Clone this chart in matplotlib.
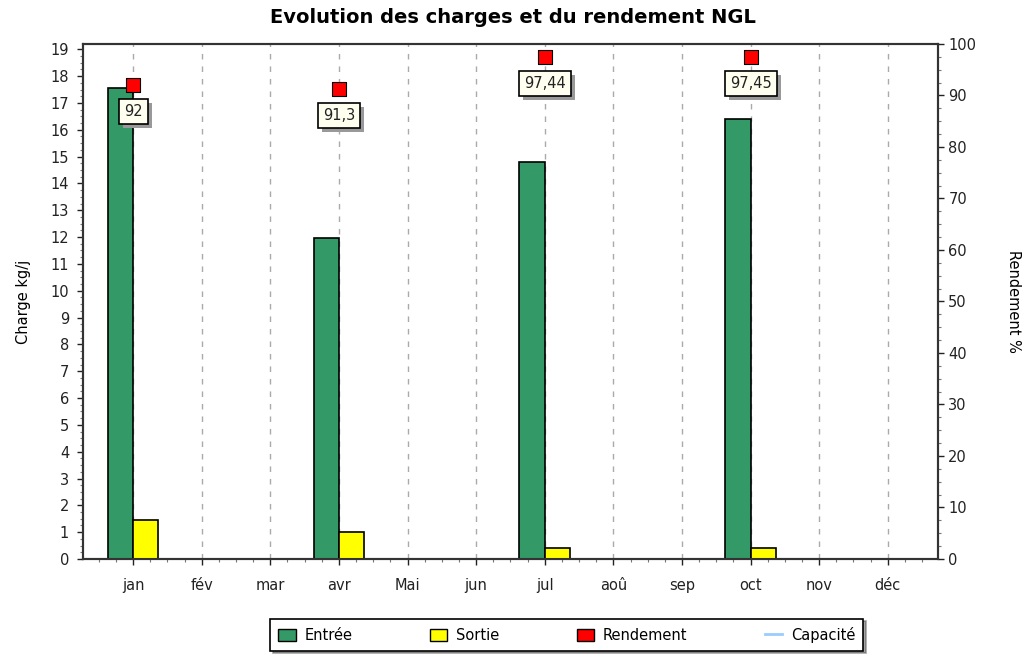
import numpy as np
import matplotlib
matplotlib.use("Agg")
from matplotlib import pyplot as plt
from matplotlib import patheffects as pe
from matplotlib.patches import Patch
from matplotlib.lines import Line2D
from matplotlib.ticker import MultipleLocator

months = ["jan", "fév", "mar", "avr", "Mai", "jun", "jul", "aoû", "sep", "oct", "nov", "déc"]
entree = [17.55, 0, 0, 11.95, 0, 0, 14.8, 0, 0, 16.4, 0, 0]
sortie = [1.45, 0, 0, 1.0, 0, 0, 0.4, 0, 0, 0.4, 0, 0]
rend_months = [0, 3, 6, 9]
rendement = [92, 91.3, 97.44, 97.45]
rend_labels = ["92", "91,3", "97,44", "97,45"]

plt.rcParams['font.family'] = ['DejaVu Sans']

fig = plt.figure(figsize=(10.25, 6.57), dpi=100)
ax = fig.add_axes([0.081, 0.1492, 0.834, 0.7839])
x = np.arange(len(months))
w = 0.37

# only draw non-zero bars
for i in x:
    if entree[i] > 0:
        ax.bar(i - w / 2, entree[i], w, color="#339966", edgecolor="black", linewidth=1.2, zorder=3)
    if sortie[i] > 0:
        ax.bar(i + w / 2, sortie[i], w, color="#ffff00", edgecolor="black", linewidth=1.2, zorder=3)

ax.set_xlim(-0.73, 11.73)
ax.set_ylim(0, 19.2)
ax.set_xticks(x)
ax.set_xticklabels(months)
ax.xaxis.set_minor_locator(MultipleLocator(0.25))
ax.yaxis.set_major_locator(MultipleLocator(1))
ax.yaxis.set_minor_locator(MultipleLocator(0.25))
ax.tick_params(axis="both", which="major", labelsize=10.5, colors="#222222", length=4, width=1)
ax.tick_params(axis="both", which="minor", length=2.5, width=0.8, colors="#777777")
ax.tick_params(axis="x", which="major", pad=10)
ax.tick_params(axis="y", which="major", pad=6)
ax.set_ylabel("Charge kg/j", fontsize=10.5, labelpad=14)
for i in x:
    ax.axvline(i, color="#aaaaaa", linestyle=(0, (4, 5)), linewidth=1, zorder=1)
for s in ax.spines.values():
    s.set_linewidth(1.5)
    s.set_color("#333333")

ax2 = ax.twinx()
ax2.set_ylim(0, 100)
ax2.yaxis.set_major_locator(MultipleLocator(10))
ax2.yaxis.set_minor_locator(MultipleLocator(2.5))
ax2.tick_params(axis="y", which="major", labelsize=10.5, colors="#222222", length=4, width=1)
ax2.tick_params(axis="y", which="minor", length=2.5, width=0.8, colors="#777777")
ax2.set_ylabel("Rendement %", fontsize=10.5, rotation=-90, labelpad=32)
for s in ax2.spines.values():
    s.set_linewidth(1.5)
    s.set_color("#333333")

ax2.scatter(rend_months, rendement, marker="s", s=110, color="#ff0000", edgecolor="black",
            linewidth=0.8, zorder=5)
for m, r, lab in zip(rend_months, rendement, rend_labels):
    t = ax2.annotate(lab, (m, r), xytext=(0, -19), textcoords="offset points", ha="center", va="center",
                     fontsize=10.5, color="#222222",
                     bbox=dict(boxstyle="square,pad=0.35", facecolor="#fffff0", edgecolor="black", linewidth=1.2),
                     zorder=7)
    t.get_bbox_patch().set_path_effects([
        pe.SimplePatchShadow(offset=(3, -3), shadow_rgbFace="#999999", alpha=1),
        pe.Normal()])

fig.suptitle("Evolution des charges et du rendement NGL", fontsize=14, fontweight="bold",
             x=0.50, y=0.988)

handles = [Patch(facecolor="#339966", edgecolor="black", label="Entrée"),
           Patch(facecolor="#ffff00", edgecolor="black", label="Sortie"),
           Patch(facecolor="#ff0000", edgecolor="black", label="Rendement"),
           Line2D([0], [0], color="#99ccff", linewidth=2, label="Capacité")]
leg = fig.legend(handles=handles, loc="center", bbox_to_anchor=(0.553, 0.034), ncol=4,
                 fontsize=10.5, frameon=True, fancybox=False, shadow=True, edgecolor="black",
                 columnspacing=5.3, handlelength=1.2, handleheight=0.9, handletextpad=0.6,
                 borderpad=0.55)
leg.get_frame().set_linewidth(1.2)

plt.savefig("out.png", dpi=100)
